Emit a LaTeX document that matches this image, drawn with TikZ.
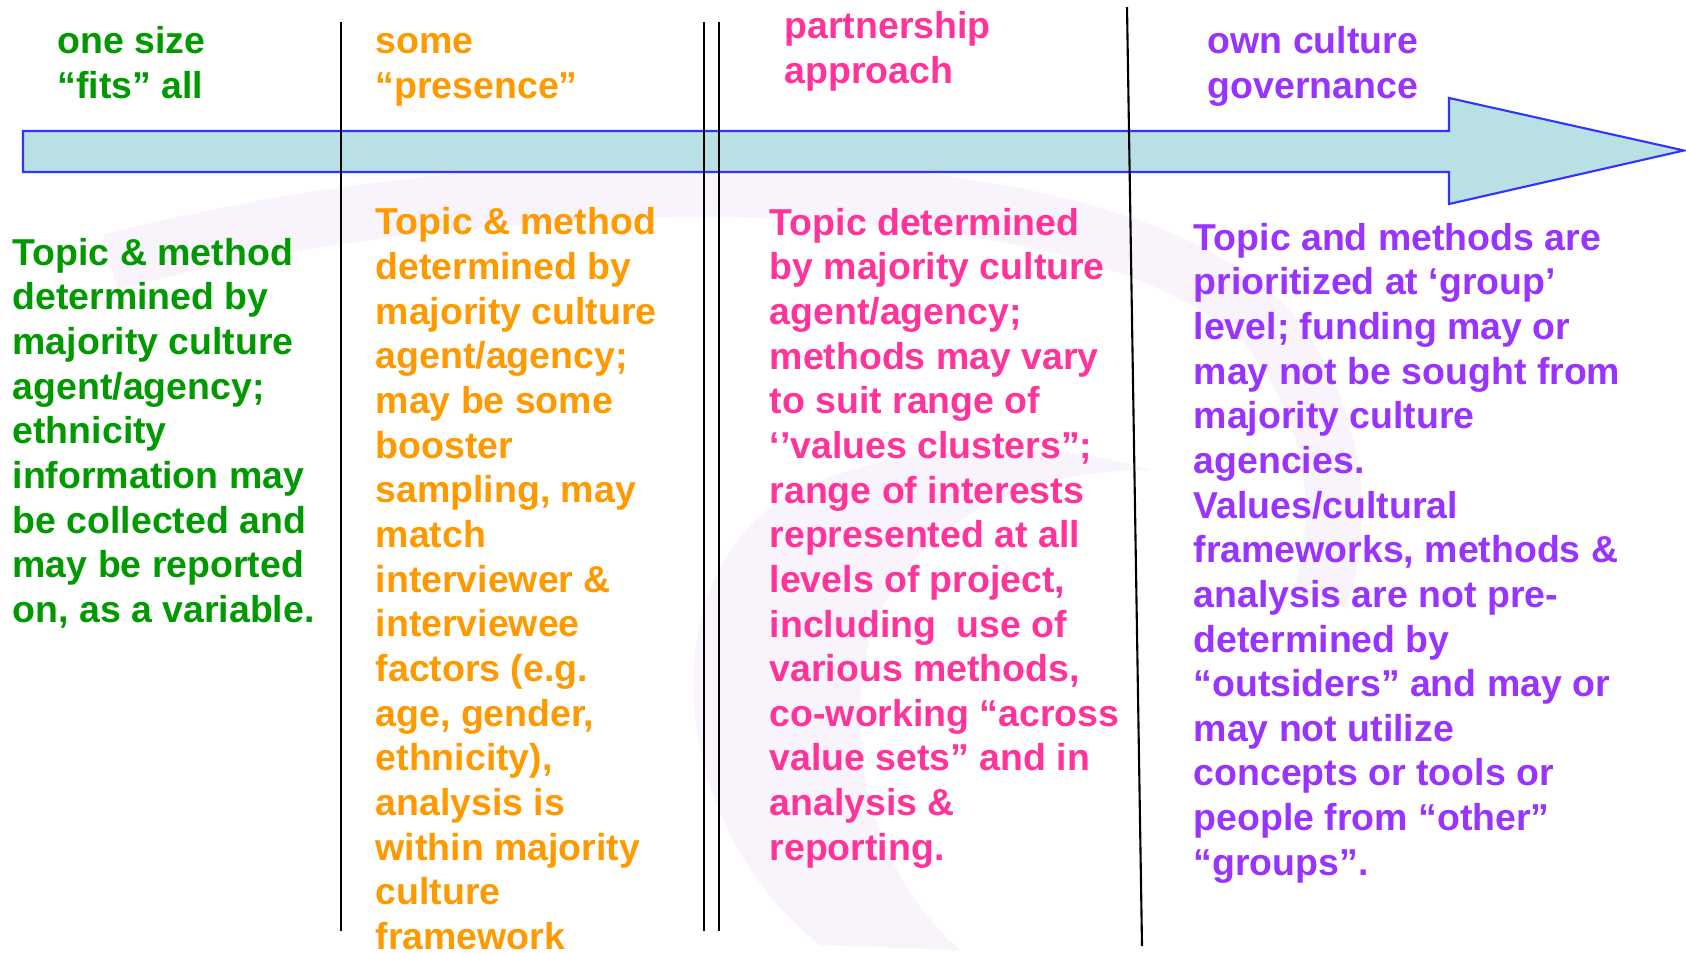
\documentclass[tikz,border=0pt]{standalone}
\usepackage{fontspec}
\setmainfont{Liberation Sans}
\definecolor{onesize}{RGB}{0,153,0}
\definecolor{presence}{RGB}{255,153,0}
\definecolor{partner}{RGB}{255,51,153}
\definecolor{owncult}{RGB}{153,51,255}
\definecolor{arrowfill}{RGB}{185,224,228}
\definecolor{arrowline}{RGB}{51,51,255}
\definecolor{swirl}{RGB}{249,243,251}
\begin{document}
\begin{tikzpicture}[x=0.01cm,y=-0.01cm]
        \tikzstyle{head}=[anchor=base west, inner sep=0pt, align=left, font=\fontsize{10.65}{12.7}\selectfont\bfseries]
        \tikzstyle{divider}=[draw=black, line width=0.6pt]
        \useasboundingbox (0,0) rectangle (1686,952);
        % faint swirl in the background
        \draw[swirl, line width=16pt] (110,262) .. controls (500,160) and (1100,150) .. (1270,330) .. controls (1340,420) and (1345,520) .. (1320,600);
        \fill[swirl] (820,945) .. controls (660,820) and (650,560) .. (800,490) .. controls (900,440) and (1060,440) .. (1150,470) .. controls (1000,470) and (900,540) .. (870,640) .. controls (840,760) and (880,880) .. (960,950) -- cycle;
        % the arrow
        \draw[draw=arrowline, line width=0.6pt, fill=arrowfill] (23,131) -- (1449,131) -- (1449,98) -- (1684,150.5) -- (1449,204) -- (1449,172) -- (23,172) -- cycle;
        % column dividers
        \draw[divider] (341,22) -- (341,931);
        \draw[divider] (704,22) -- (704,931);
        \draw[divider] (719,22) -- (719,931);
        \draw[divider] (1127,7) -- (1142,946);
        % headings (anchored on their last line)
        \node[head, text=onesize] (h1) at (57,98.5) {one size\\“fits” all};
        \node[head, text=presence] (h2) at (375,98.5) {some\\“presence”};
        \node[head, text=partner] (h3) at (784,83.5) {partnership\\approach};
        \node[head, text=owncult] (h4) at (1207,98.5) {own culture\\governance};
        % column texts
        \node[head, text=onesize] (b1) at (12,622.5) {Topic \& method\\determined by\\majority culture\\agent/agency;\\ethnicity\\information may\\be collected and\\may be reported\\on, as a variable.};
        \node[head, text=presence] (b2) at (375,949.5) {Topic \& method\\determined by\\majority culture\\agent/agency;\\may be some\\booster\\sampling, may\\match\\interviewer \&\\interviewee\\factors (e.g.\\age, gender,\\ethnicity),\\analysis is\\within majority\\culture\\framework};
        \node[head, text=partner] (b3) at (769,860.3) {Topic determined\\by majority culture\\agent/agency;\\methods may vary\\to suit range of\\‘’values clusters”;\\range of interests\\represented at all\\levels of project,\\including\ \ use of\\various methods,\\co-working “across\\value sets” and in\\analysis \&\\reporting.};
        \node[head, text=owncult] (b4) at (1193,875.3) {Topic and methods are\\prioritized at ‘group’\\level; funding may or\\may not be sought from\\majority culture\\agencies.\\Values/cultural\\frameworks, methods \&\\analysis are not pre-\\determined by\\“outsiders” and may or\\may not utilize\\concepts or tools or\\people from “other”\\“groups”.};
    \end{tikzpicture}
\end{document}
